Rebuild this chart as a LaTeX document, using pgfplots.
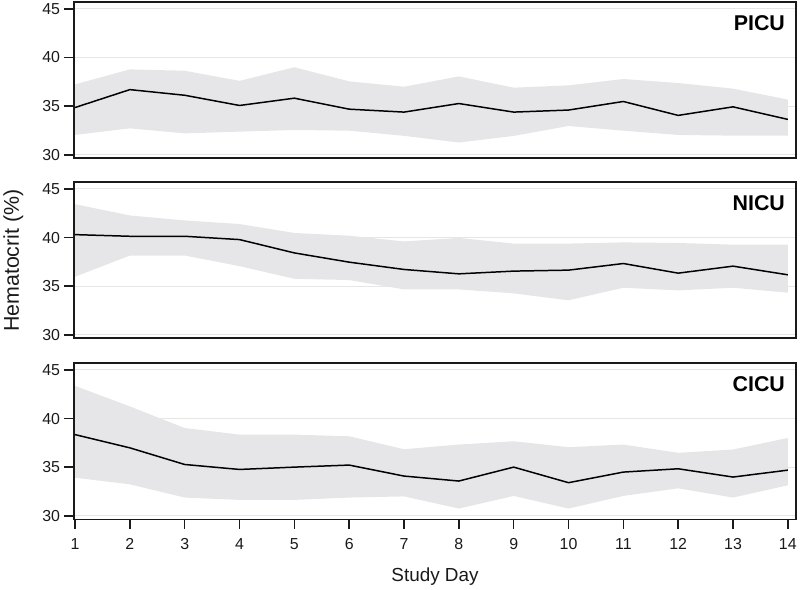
\documentclass[border=0pt]{standalone}
\usepackage{fontspec}
\setmainfont{Liberation Sans}
\usepackage{pgfplots}
\usepackage{pgfplotstable}
\pgfplotsset{compat=1.18}
\usepgfplotslibrary{fillbetween}

\definecolor{band}{HTML}{E6E6E8}
\definecolor{gridc}{HTML}{E6E6E6}
\definecolor{axc}{HTML}{1A1A1A}

% day, mean, lower, upper
\pgfplotstableread{
day mean lo hi
1  34.86 32.04 37.24
2  36.70 32.72 38.78
3  36.12 32.20 38.64
4  35.07 32.38 37.60
5  35.82 32.55 39.00
6  34.69 32.48 37.55
7  34.39 31.95 37.00
8  35.27 31.26 38.06
9  34.39 31.94 36.90
10 34.60 32.96 37.14
11 35.48 32.48 37.79
12 34.05 32.04 37.38
13 34.93 31.97 36.80
14 33.64 31.97 35.68
}\picu

\pgfplotstableread{
day mean lo hi
1  40.30 35.97 43.43
2  40.13 38.15 42.27
3  40.13 38.15 41.76
4  39.79 37.06 41.39
5  38.42 35.76 40.47
6  37.47 35.63 40.19
7  36.72 34.67 39.60
8  36.27 34.67 39.96
9  36.55 34.26 39.38
10 36.65 33.55 39.38
11 37.33 34.84 39.50
12 36.34 34.57 39.44
13 37.06 34.84 39.27
14 36.17 34.33 39.27
}\nicu

\pgfplotstableread{
day mean lo hi
1  38.35 33.92 43.36
2  36.99 33.24 41.25
3  35.28 31.88 39.03
4  34.77 31.64 38.35
5  35.01 31.64 38.35
6  35.22 31.88 38.18
7  34.09 32.00 36.85
8  33.58 30.75 37.33
9  35.01 32.05 37.67
10 33.41 30.75 37.06
11 34.50 32.05 37.33
12 34.84 32.83 36.48
13 33.99 31.88 36.82
14 34.70 33.14 38.01
}\cicu

\pgfplotsset{
  panel/.style={
    scale only axis, anchor=south west,
    width=726pt, height=157pt,
    xmin=0.98, xmax=14.15, ymin=29.65, ymax=45.7,
    ytick={30,35,40,45}, xtick={1,...,14},
    ytick pos=left, xtick pos=bottom,
    tick align=outside, major tick length=9.5pt,
    ymajorgrids, grid style={gridc, line width=1pt},
    axis line style={axc, line width=1.5pt},
    tick style={axc, line width=1.5pt},
    /pgf/number format/assume math mode=true,
    tick label style={font=\fontsize{16}{18}\selectfont, text=axc},
    yticklabel style={xshift=-1pt},
    xticklabel style={yshift=-6pt},
  },
  meanline/.style={black, line width=1.5pt},
}
\tikzset{tag/.style={anchor=north east, font=\bfseries\fontsize{21.5}{23}\selectfont,
  inner sep=0pt, xshift=-11pt, yshift=-13pt}}

\begin{document}
\begin{tikzpicture}
  \path (0pt,0pt) rectangle (800pt,-589pt);

  \begin{axis}[panel, at={(72pt,-158pt)}, xtick=\empty]
    \addplot[name path=hiA, draw=none, forget plot] table[x=day, y=hi] {\picu};
    \addplot[name path=loA, draw=none, forget plot] table[x=day, y=lo] {\picu};
    \addplot[fill=band, draw=none] fill between[of=hiA and loA];
    \addplot[meanline] table[x=day, y=mean] {\picu};
    \node[tag] at (rel axis cs:1,1) {PICU};
  \end{axis}

  \begin{axis}[panel, at={(72pt,-339pt)}, xtick=\empty]
    \addplot[name path=hiB, draw=none, forget plot] table[x=day, y=hi] {\nicu};
    \addplot[name path=loB, draw=none, forget plot] table[x=day, y=lo] {\nicu};
    \addplot[fill=band, draw=none] fill between[of=hiB and loB];
    \addplot[meanline] table[x=day, y=mean] {\nicu};
    \node[tag] at (rel axis cs:1,1) {NICU};
  \end{axis}

  \begin{axis}[panel, at={(72pt,-521pt)}]
    \addplot[name path=hiC, draw=none, forget plot] table[x=day, y=hi] {\cicu};
    \addplot[name path=loC, draw=none, forget plot] table[x=day, y=lo] {\cicu};
    \addplot[fill=band, draw=none] fill between[of=hiC and loC];
    \addplot[meanline] table[x=day, y=mean] {\cicu};
    \node[tag] at (rel axis cs:1,1) {CICU};
  \end{axis}

  \node[rotate=90, font=\fontsize{21.5}{23}\selectfont, text=axc] at (11pt,-261pt) {Hematocrit (\%)};
  \node[font=\fontsize{19}{21}\selectfont, text=axc] at (435pt,-579pt) {Study Day};
\end{tikzpicture}
\end{document}
